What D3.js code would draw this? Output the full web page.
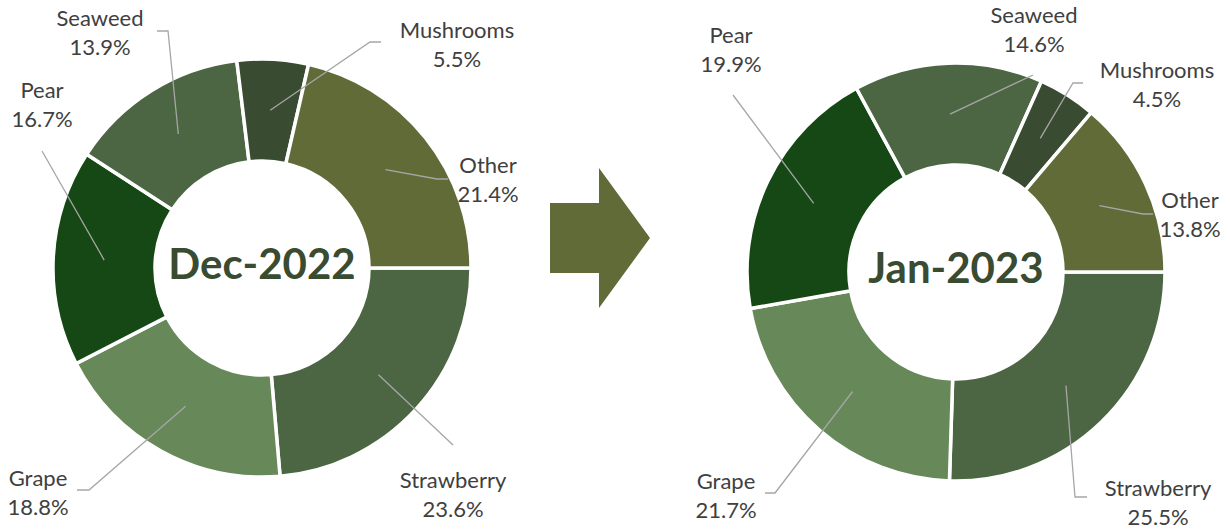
<!DOCTYPE html>
<html>
<head>
<meta charset="utf-8">
<script src="https://cdn.jsdelivr.net/npm/d3@7"></script>
<style>
  body { margin: 0; background: #fff; }
  svg { display: block; }
</style>
</head>
<body>
<div id="chart"></div>
<script>
// categories in drawing order (clockwise, first slice starts at 3 o'clock)
const categories = ["Strawberry", "Grape", "Pear", "Seaweed", "Mushrooms", "Other"];
const dec2022 = [23.6, 18.8, 16.7, 13.9, 5.5, 21.4];
const jan2023 = [25.5, 21.7, 19.9, 14.6, 4.5, 13.8];
const periods = ["Dec-2022", "Jan-2023"];

const colors = ["#4c6644", "#678858", "#154815", "#4c6644", "#394b30", "#606b38"];

const width = 1230, height = 529;
const outerR = 209, innerR = 107;

// donut centres
const centers = [[262, 268], [956, 272]];

// label placement per donut: [labelX, firstLineY, leaderStartX, leaderStartY, elbowX]
const labelLayout = [
  [[453, 480, 453, 445, null], [38, 478, 77, 490, 89], [42, 90, 42, 151, null],
   [100, 18, 157, 31, 168], [457, 30, 381, 42, 370], [488, 165, 448, 179, 437]],
  [[1158, 488, 1087, 497, 1075], [726, 481, 765, 493, 775], [731, 35, 733, 95, null],
   [1034, 15, 1033, 75, null], [1157, 70, 1083, 83, 1073], [1190, 200, 1153, 214, 1143]]
];

const svg = d3.select("#chart").append("svg")
    .attr("width", width)
    .attr("height", height);

svg.append("rect").attr("width", width).attr("height", height).attr("fill", "#fff");

let pie = d3.pie()
    .sort(null)
    .startAngle(Math.PI / 2)
    .endAngle(Math.PI / 2 + 2 * Math.PI);

let arc = d3.arc()
    .innerRadius(innerR)
    .outerRadius(outerR);

function drawDonut(values, idx) {
    let cx = centers[idx][0], cy = centers[idx][1];
    let arcs = pie(values);
    let g = svg.append("g").attr("transform", `translate(${cx},${cy})`);

    g.selectAll("path.slice")
        .data(arcs).enter().append("path")
        .attr("class", "slice")
        .attr("d", arc)
        .attr("fill", (d, i) => colors[i])
        .attr("stroke", "#fff")
        .attr("stroke-width", 3.5)
        .attr("stroke-linejoin", "miter");

    // period name in the hole
    g.append("text")
        .attr("x", 0)
        .attr("y", -4)
        .attr("dy", "0.36em")
        .attr("text-anchor", "middle")
        .style("font-family", "Lato, 'Open Sans', sans-serif")
        .style("font-weight", "bold")
        .style("font-size", "42px")
        .style("fill", "#394b30")
        .text(periods[idx]);

    // leader lines + labels
    arcs.forEach((d, i) => {
        let lay = labelLayout[idx][i];
        let c = arc.centroid(d);
        let end = [cx + c[0], cy + c[1]];
        let pts = [[lay[2], lay[3]]];
        if (lay[4] !== null) pts.push([lay[4], lay[3]]);
        pts.push(end);

        svg.append("path")
            .attr("d", d3.line()(pts))
            .attr("fill", "none")
            .attr("stroke", "#a6a6a6")
            .attr("stroke-width", 1.3);

        let t = svg.append("text")
            .attr("text-anchor", "middle")
            .style("font-family", "Lato, 'Open Sans', sans-serif")
            .style("font-size", "22px")
            .style("fill", "#404040");
        t.append("tspan")
            .attr("x", lay[0]).attr("y", lay[1]).attr("dy", "0.36em")
            .text(categories[i]);
        t.append("tspan")
            .attr("x", lay[0]).attr("y", lay[1] + 29).attr("dy", "0.36em")
            .text(d3.format(".1f")(values[i]) + "%");
    });
}

drawDonut(dec2022, 0);
drawDonut(jan2023, 1);

// block arrow between the two donuts
let ax = 550, ay = 238;
let arrow = d3.path();
arrow.moveTo(ax, ay - 35);
arrow.lineTo(ax + 49, ay - 35);
arrow.lineTo(ax + 49, ay - 70);
arrow.lineTo(ax + 100, ay);
arrow.lineTo(ax + 49, ay + 70);
arrow.lineTo(ax + 49, ay + 35);
arrow.lineTo(ax, ay + 35);
arrow.closePath();
svg.append("path")
    .attr("d", arrow.toString())
    .attr("fill", "#606b38");
</script>
</body>
</html>
